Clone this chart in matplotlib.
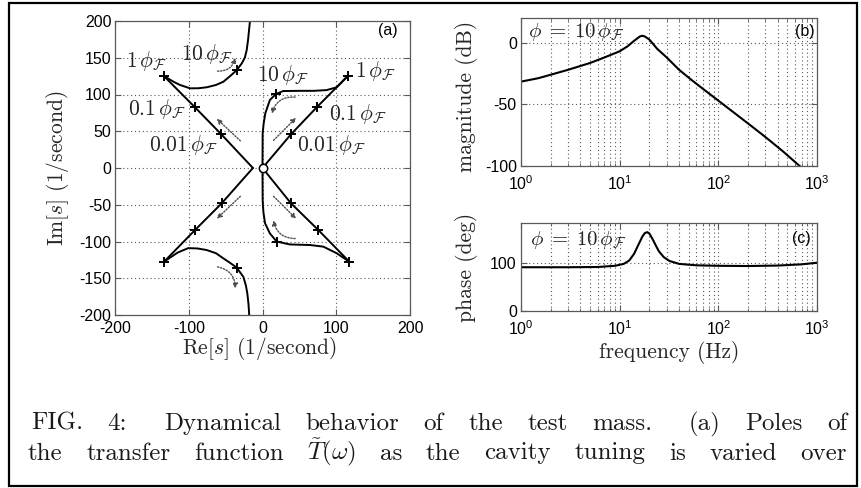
import numpy as np
import matplotlib
matplotlib.use('Agg')
import matplotlib.pyplot as plt
from matplotlib.patches import Rectangle
from matplotlib.ticker import FixedLocator, LogLocator, NullFormatter

# ---------------- data ----------------
# root locus branches (Re, Im) in 1/second
ul_diag_re = [-13, -56, -92, -133.6]
ul_diag_im = [0, 46, 83, 125]
ul_curve_re = [-133.6, -120, -111.9, -98.3, -87, -75.7, -63, -53, -44, -35, -28, -24, -21.4, -19.5, -18, -17]
ul_curve_im = [125, 117, 113, 108.4, 108.5, 109.8, 113, 117.4, 125, 133, 142.5, 150, 160.5, 175, 190, 200]
ur_diag_re = [0, 38.6, 74.3, 115.5]
ur_diag_im = [0, 45.8, 83.4, 125]
ur_curve_re = [115.5, 100.6, 87, 70, 50.8, 28, 18.3, 10, 3.8, 1.5, 0.2, 0]
ur_curve_im = [125, 109.8, 106, 105, 105, 104.7, 100.7, 92.5, 74.4, 60, 47, 0]
ll_diag_re = [-13, -55.3, -91.5, -133.5]
ll_diag_im = [0, -48, -84.4, -127.5]
ll_curve_re = [-133.5, -115, -100.6, -88, -75.7, -63, -53, -44, -35, -26, -22.5, -20.6, -19, -18]
ll_curve_im = [-127.5, -115, -109, -109.5, -111.6, -116, -123, -129, -135.6, -148, -160, -170.5, -185, -200]
lr_diag_re = [0, 38.6, 75.7, 117.7]
lr_diag_im = [0, -48, -84.4, -127.5]
lr_curve_re = [117.7, 100.6, 82.5, 64.6, 37, 19.2, 10, 3.4, 1.2, 0.2, 0]
lr_curve_im = [-127.5, -116, -107, -104.8, -104, -100, -89, -75, -60, -43.5, 0]

cross_re = [-133.6, -92, -56, -35, 115.5, 74.3, 38.6, 18.3,
            -133.5, -91.5, -55.3, -35, 117.7, 75.7, 38.6, 19.2]
cross_im = [125, 83, 46, 133, 125, 83.4, 45.8, 100.7,
            -127.5, -84.4, -48, -135.6, -127.5, -84.4, -48, -100]
zero_re = [0]
zero_im = [0]

# direction arrows: tail -> head, arc curvature
arrow_tail_re = [-30, 15, 44.3, -61, -30, 15, 44.3, -61]
arrow_tail_im = [37, 37.6, 96.5, 131.8, -38.5, -38.5, -96, -134.5]
arrow_head_re = [-62, 45.6, 12.7, -37, -62, 45.6, 15, -37]
arrow_head_im = [67, 68.4, 73.8, 150, -69, -69, -71, -164]
arrow_rad = [0, 0, 0.4, 0.4, 0, 0, -0.4, -0.4]

# tuning labels in panel (a)
lab_text = [r'$1\,\phi_{\mathcal{F}}$', r'$10\,\phi_{\mathcal{F}}$', r'$10\,\phi_{\mathcal{F}}$',
            r'$1\,\phi_{\mathcal{F}}$', r'$0.1\,\phi_{\mathcal{F}}$', r'$0.1\,\phi_{\mathcal{F}}$',
            r'$0.01\,\phi_{\mathcal{F}}$', r'$0.01\,\phi_{\mathcal{F}}$']
lab_re = [-157, -75.5, 27.6, 153, -143, 130, -107, 94]
lab_im = [146, 155, 126, 132.6, 80.5, 74, 31, 31]

# Bode magnitude
freq_mag = [1, 1.5, 2, 3, 5, 7, 10, 12, 14, 16, 17, 18, 20, 24, 30, 40, 55, 70, 100, 130, 200, 300, 450, 667]
mag_db = [-31.6, -28.8, -26, -22, -16.5, -12, -7, -3, 1.5, 5, 5.6, 5, 2.5, -5, -12, -22, -31, -37.5, -47, -54, -65.5, -76.5, -88, -100]

# Bode phase
freq_ph = [1, 3, 6, 9, 11, 12.5, 14, 15.5, 17, 18, 19, 20, 21.5, 23, 25, 28, 32, 40, 60, 100, 200, 400, 700, 1000]
phase_deg = [91, 91, 91.5, 94, 98, 105, 119, 138, 155, 162, 164, 161, 150, 138, 124, 112, 104, 98, 95, 94, 93.5, 94.5, 97, 100.5]

caption_line1 = ['FIG.', '4:', 'Dynamical', 'behavior', 'of', 'the', 'test', 'mass.', '(a)', 'Poles', 'of']
caption_gap1 = [1, 1.5, 1, 1, 1, 1, 1, 1.5, 1, 1]
caption_line2 = ['the', 'transfer', 'function', r'$\tilde{T}(\omega)$', 'as', 'the', 'cavity',
                 'tuning', 'is', 'varied', 'over']
caption_gap2 = [1] * 10

# ---------------- style ----------------
plt.rcParams['mathtext.fontset'] = 'cm'
plt.rcParams['font.family'] = ['Liberation Sans', 'DejaVu Sans']
plt.rcParams['axes.unicode_minus'] = False
SERIF = 'cmr10'
W, H = 862, 488
GRID = dict(color='0.35', linestyle=(0, (1, 2.5)), linewidth=0.8)
TXT = '0.15'

fig = plt.figure(figsize=(W / 100, H / 100), dpi=100)

def style_axes(ax):
    for s in ax.spines.values():
        s.set_color('0.35')
        s.set_linewidth(0.9)
    ax.tick_params(which='both', direction='in', top=True, right=True,
                   labelsize=11.5, colors='0.35', labelcolor='black')
    ax.tick_params(which='major', length=4)
    ax.tick_params(which='minor', length=2)

# ---------------- panel (a) ----------------
ax1 = fig.add_axes([115 / W, 1 - 315 / H, 295 / W, 294 / H])
style_axes(ax1)
ax1.tick_params(axis='x', pad=4)
ax1.tick_params(axis='y', pad=2.5)
ax1.set_xlim(-200, 200)
ax1.set_ylim(-200, 200)
ax1.xaxis.set_major_locator(FixedLocator([-200, -100, 0, 100, 200]))
ax1.yaxis.set_major_locator(FixedLocator([-200, -150, -100, -50, 0, 50, 100, 150, 200]))
ax1.grid(True, **GRID)
ax1.set_axisbelow(True)
for re, im in [(ul_diag_re, ul_diag_im), (ul_curve_re, ul_curve_im),
               (ur_diag_re, ur_diag_im), (ur_curve_re, ur_curve_im),
               (ll_diag_re, ll_diag_im), (ll_curve_re, ll_curve_im),
               (lr_diag_re, lr_diag_im), (lr_curve_re, lr_curve_im)]:
    ax1.plot(re, im, color='black', lw=1.4, solid_capstyle='round')
ax1.plot(cross_re, cross_im, ls='none', marker='+', ms=7.5, mew=1.4, color='black')
ax1.plot(zero_re, zero_im, ls='none', marker='o', ms=6, mew=1.1, mfc='white', mec='black')
for tr, ti, hr, hi, rad in zip(arrow_tail_re, arrow_tail_im, arrow_head_re, arrow_head_im, arrow_rad):
    ax1.annotate('', xy=(hr, hi), xytext=(tr, ti),
                 arrowprops=dict(arrowstyle='-|>', linestyle=(0, (1, 1.2)), lw=1.0, color='0.3',
                                 mutation_scale=7, shrinkA=0, shrinkB=0,
                                 connectionstyle=f'arc3,rad={rad}'))
for t, x, y in zip(lab_text, lab_re, lab_im):
    ax1.text(x, y, t, fontsize=15.5, ha='center', va='center', color=TXT)
ax1.text(0.925, 0.966, '(a)', transform=ax1.transAxes, fontsize=11.5, ha='center', va='center')
ax1.set_xlabel(r'Re[$s$] (1/second)', fontsize=15.5, family=SERIF, color=TXT)
ax1.xaxis.set_label_coords((259 - 115) / 295, (315 - 348) / 294)
ax1.xaxis.label.set_va('center')
ax1.set_ylabel(r'Im[$s$] (1/second)', fontsize=15.5, family=SERIF, color=TXT)
ax1.yaxis.set_label_coords((58 - 115) / 295, 0.5)
ax1.yaxis.label.set_va('center')

PHI_LABEL = r'$\phi\;=\;10\,\phi_{\mathcal{F}}$'

# ---------------- panel (b) ----------------
ax2 = fig.add_axes([521 / W, 1 - 166 / H, 296 / W, 148 / H])
style_axes(ax2)
ax2.semilogx(freq_mag, mag_db, color='black', lw=1.5)
ax2.set_xlim(1, 1000)
ax2.set_ylim(-100, 20)
ax2.yaxis.set_major_locator(FixedLocator([-100, -50, 0]))
ax2.xaxis.set_major_locator(LogLocator(base=10, numticks=10))
ax2.xaxis.set_minor_locator(LogLocator(base=10, subs=np.arange(2, 10), numticks=20))
ax2.xaxis.set_minor_formatter(NullFormatter())
ax2.tick_params(axis='x', pad=6)
ax2.tick_params(axis='y', pad=3)
ax2.grid(True, which='both', **GRID)
ax2.set_axisbelow(True)
ax2.text(0.024, 0.905, PHI_LABEL, transform=ax2.transAxes,
         fontsize=15, ha='left', va='center', color=TXT)
ax2.text(0.96, 0.912, '(b)', transform=ax2.transAxes, fontsize=11.5, ha='center', va='center')
ax2.set_ylabel('magnitude (dB)', fontsize=15.5, family=SERIF, color=TXT)
ax2.yaxis.set_label_coords((467 - 521) / 296, 0.47)
ax2.yaxis.label.set_va('center')

# ---------------- panel (c) ----------------
ax3 = fig.add_axes([521 / W, 1 - 311 / H, 296 / W, 88 / H])
style_axes(ax3)
ax3.semilogx(freq_ph, phase_deg, color='black', lw=1.5)
ax3.set_xlim(1, 1000)
ax3.set_ylim(0, 183)
ax3.yaxis.set_major_locator(FixedLocator([0, 100]))
ax3.xaxis.set_major_locator(LogLocator(base=10, numticks=10))
ax3.xaxis.set_minor_locator(LogLocator(base=10, subs=np.arange(2, 10), numticks=20))
ax3.xaxis.set_minor_formatter(NullFormatter())
ax3.tick_params(axis='x', pad=6)
ax3.tick_params(axis='y', pad=3)
ax3.grid(True, which='both', **GRID)
ax3.set_axisbelow(True)
ax3.text(0.03, 0.807, PHI_LABEL, transform=ax3.transAxes,
         fontsize=15, ha='left', va='center', color=TXT)
ax3.text(0.946, 0.824, '(c)', transform=ax3.transAxes, fontsize=11.5, ha='center', va='center')
ax3.set_ylabel('phase (deg)', fontsize=15.5, family=SERIF, color=TXT)
ax3.yaxis.set_label_coords((467 - 521) / 296, 0.5)
ax3.yaxis.label.set_va('center')
ax3.set_xlabel('frequency (Hz)', fontsize=15.5, family=SERIF, color=TXT)
ax3.xaxis.set_label_coords(0.5, (311 - 353) / 88)
ax3.xaxis.label.set_va('center')

# ---------------- frame and caption ----------------
fig.patches.append(Rectangle((9 / W, 1 - 486 / H), 848 / W, 483 / H, transform=fig.transFigure,
                             fill=False, lw=1.6, ec='black'))

renderer = fig.canvas.get_renderer()

def justify(words, gaps, x0, x1, ybase):
    texts = [fig.text(0, 1 - ybase / H, w, fontsize=18, family=SERIF, va='baseline',
                      ha='left', color='0.1') for w in words]
    widths = [t.get_window_extent(renderer).width for t in texts]
    unit = (x1 - x0 - sum(widths)) / sum(gaps)
    x = x0
    for t, w, g in zip(texts, widths, gaps + [0]):
        t.set_x(x / W)
        x += w + g * unit

justify(caption_line1, caption_gap1, 31, 847, 430)
justify(caption_line2, caption_gap2, 28, 847, 459.5)

fig.savefig('out.png', dpi=100)
